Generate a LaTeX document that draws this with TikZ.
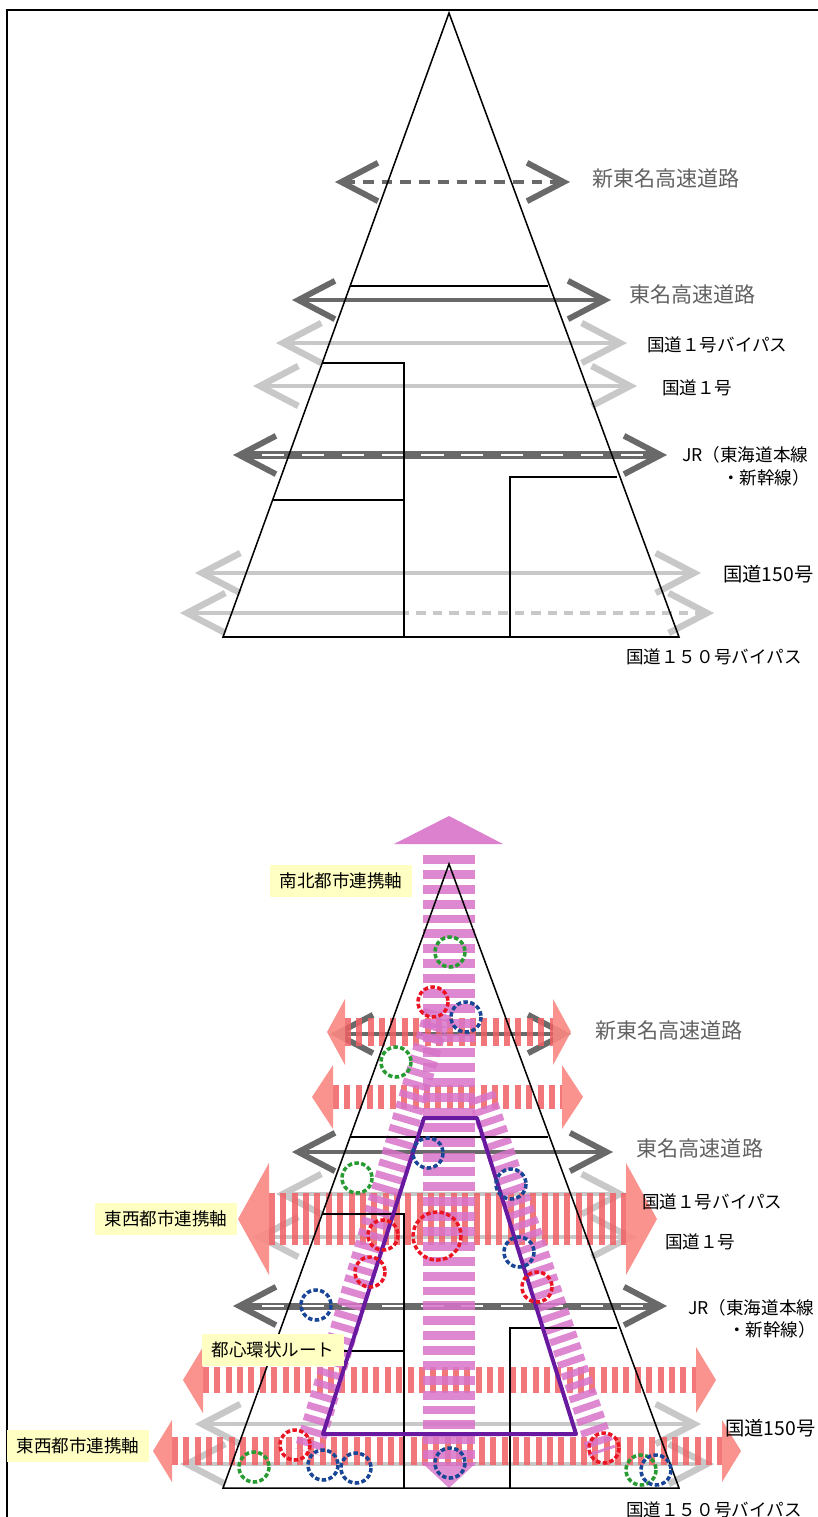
\documentclass[tikz,border=0pt]{standalone}
\usepackage{fontspec}
\setmainfont{Noto Sans CJK JP}
\usetikzlibrary{arrows.meta}
\definecolor{roaddark}{RGB}{105,105,105}
\definecolor{roadlight}{RGB}{200,200,200}
\definecolor{ewred}{RGB}{240,95,100}
\definecolor{ewhead}{RGB}{250,135,130}
\definecolor{nspink}{RGB}{215,115,200}
\definecolor{loopviolet}{RGB}{105,25,160}
\definecolor{boxyellow}{RGB}{255,255,195}
\definecolor{ringgreen}{RGB}{40,155,50}
\definecolor{ringred}{RGB}{235,20,35}
\definecolor{ringblue}{RGB}{25,70,150}
\tikzset{darkroad/.style = {draw=roaddark,line width=3.6pt,>={Straight Barb[length=1.1cm,width=1.15cm,line width=5pt]},<->},
         lightroad/.style = {draw=roadlight,line width=4.2pt,>={Straight Barb[length=1.15cm,width=1.2cm,line width=5.5pt]},<->},
         jrroad/.style = {darkroad,line width=6pt},
         jrdash/.style = {white,line width=2.2pt,dash pattern=on 19pt off 15pt},
         biglabel/.style = {anchor=west,inner sep=0pt,text=black!62,font=\fontsize{18}{20}\selectfont},
         smalllabel/.style = {anchor=west,inner sep=0pt,font=\fontsize{15}{17}\selectfont},
         axisbox/.style = {fill=boxyellow,inner xsep=8pt,inner ysep=7pt,font=\fontsize{15}{17}\selectfont},
         ewband/.style = {draw=ewred,opacity=0.85,dash pattern=on 5.1pt off 4.6pt},
         nsband/.style = {draw=nspink,opacity=0.85,dash pattern=on 7.6pt off 5.1pt},
         ring/.style = {line width=3pt,dash pattern=on 3.8pt off 2pt}}
\newcommand{\cityframe}{%
  \draw[line width=1.3pt] (449,13) -- (223,637) -- (679,637) -- cycle;
  \draw[line width=1.3pt] (350,286) -- (548,286);
  \draw[line width=1.3pt] (322,363) -- (404,363) -- (404,637);
  \draw[line width=1.3pt] (273,500) -- (404,500);
  \draw[line width=1.3pt] (617,477) -- (510,477) -- (510,637);}

\begin{document}
\begin{tikzpicture}[x=0.03cm,y=-0.03cm]
\useasboundingbox (0,0) rectangle (818,1517);
\draw[line width=2.4pt] (818,10) -- (7,10) -- (7,1517);

% upper map
\draw[darkroad,line width=3pt,dash pattern=on 9pt off 7pt] (335,182) -- (570,182);
\draw[darkroad] (292,300) -- (611,300);
\draw[lightroad] (276,343) -- (627,343);
\draw[lightroad] (253,386) -- (637,386);
\draw[jrroad] (233,455) -- (667,455);
\draw[jrdash] (262,455) -- (645,455);
\draw[lightroad] (195,573) -- (701,573);
\draw[lightroad,<-] (180,613) -- (400,613);
\draw[lightroad,->,line width=2.6pt,dash pattern=on 8pt off 6pt] (400,613) -- (714,613);
\cityframe
\node[biglabel] (shintomei) at (592,178) {新東名高速道路};
\node[biglabel] (tomei) at (629,294) {東名高速道路};
\node[smalllabel] (rtOneBP) at (647,345) {国道１号バイパス};
\node[smalllabel] (rtOne) at (662,388) {国道１号};
\node[smalllabel] (jr) at (682,455) {JR（東海道本線};
\node[smalllabel] (jrSub) at (722,478) {・新幹線）};
\node[smalllabel,font=\fontsize{16.5}{18}\selectfont] (rtOneFifty) at (723,574) {国道150号};
\node[smalllabel] (rtOneFiftyBP) at (626,657) {国道１５０号バイパス};

% lower map
\draw[darkroad] (330,1034) -- (571,1034);
\draw[darkroad] (292,1152) -- (613,1152);
\draw[lightroad] (276,1194) -- (627,1194);
\draw[lightroad] (253,1237) -- (637,1237);
\draw[jrroad] (233,1306) -- (667,1306);
\draw[jrdash] (262,1306) -- (645,1306);
\draw[lightroad] (195,1424) -- (701,1424);
\draw[lightroad] (180,1464) -- (714,1464);

\foreach \y/\xa/\xb/\w/\h/\d in {1032/345/553/28/33/18, 1097/333/562/25/32/21,
    1219/269/626/52/56/31, 1380/203/696/26/33/20, 1451/172/722/28/31/19}{
  \draw[ewband,line width=\w*0.85pt] (\xa,\y) -- (\xb,\y);
  \fill[ewhead,opacity=0.9] (\xa,\y-\h) -- (\xa-\d,\y) -- (\xa,\y+\h) -- cycle;
  \fill[ewhead,opacity=0.9] (\xb,\y-\h) -- (\xb+\d,\y) -- (\xb,\y+\h) -- cycle;
}
\draw[nsband,line width=44pt] (449,855) -- (449,1466);
\fill[nspink,opacity=0.9] (394,844) -- (449,816) -- (503,844) -- cycle;
\fill[nspink,opacity=0.8] (421,1462) -- (477,1462) -- (449,1488) -- cycle;
\draw[nsband,line width=24pt,dash pattern=on 6pt off 4.3pt] (438,1012) -- (308,1452);
\draw[nsband,line width=24pt,dash pattern=on 6pt off 4.3pt] (481,1095) -- (602,1452);

\begin{scope}[shift={(0,851)}]
  \cityframe
\end{scope}
\draw[loopviolet,line width=3.4pt,line join=round] (424,1118) -- (477,1118) -- (576,1434) -- (323,1434) -- cycle;

\foreach \x/\y in {450/952, 396/1062, 357/1178, 254/1467, 641/1470}
  \draw[ring,ringgreen] (\x,\y) circle[radius=15];
\foreach \x/\y in {433/1002, 383/1235, 370/1272, 537/1287, 295/1445, 604/1448}
  \draw[ring,ringred] (\x,\y) circle[radius=15];
\draw[ring,ringred] (437,1236) circle[radius=24];
\foreach \x/\y in {466/1017, 428/1153, 511/1184, 519/1252, 316/1305, 323/1465, 356/1468, 450/1463, 656/1470}
  \draw[ring,ringblue] (\x,\y) circle[radius=15];

\node[biglabel] (shintomeiB) at (595,1030) {新東名高速道路};
\node[biglabel,fill=white,inner sep=2pt] (tomeiB) at (634,1148) {東名高速道路};
\node[smalllabel] (rtOneBPB) at (642,1202) {国道１号バイパス};
\node[smalllabel] (rtOneB) at (665,1242) {国道１号};
\node[smalllabel] (jrB) at (688,1308) {JR（東海道本線};
\node[smalllabel] (jrSubB) at (728,1330) {・新幹線）};
\node[smalllabel,font=\fontsize{16.5}{18}\selectfont] (rtOneFiftyB) at (725,1428) {国道150号};
\node[smalllabel] (rtOneFiftyBPB) at (626,1510) {国道１５０号バイパス};
\node[axisbox] (nsAxis) at (341,881) {南北都市連携軸};
\node[axisbox] (ewAxisUp) at (166,1219) {東西都市連携軸};
\node[axisbox] (ewAxisLow) at (78,1446) {東西都市連携軸};
\node[axisbox] (loopRoute) at (273,1350) {都心環状ルート};
\end{tikzpicture}
\end{document}
